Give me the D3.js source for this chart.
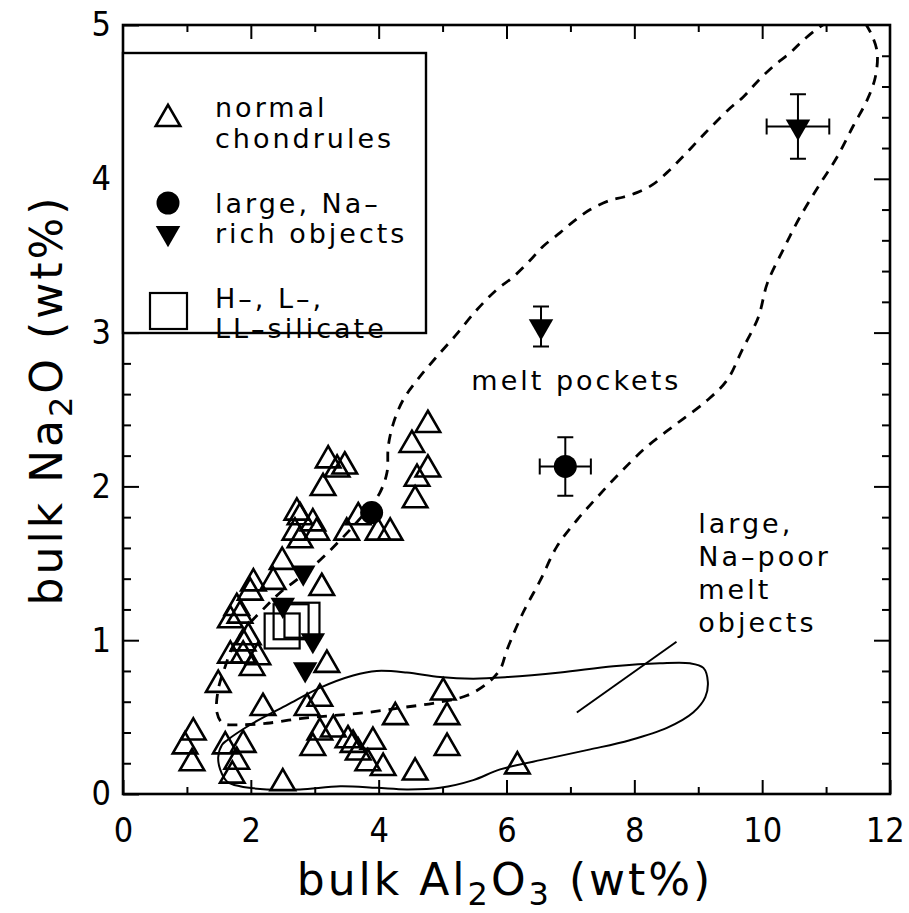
<!DOCTYPE html>
<html>
<head>
<meta charset="utf-8">
<script src="https://cdn.jsdelivr.net/npm/d3@7"></script>
<style>
  body { margin: 0; background: #fff; }
  text { font-family: "DejaVu Sans", sans-serif; fill: #000; }
  .tick text { font-family: "DejaVu Sans Condensed", "DejaVu Sans", sans-serif; font-stretch: condensed; font-size: 34px; }
  .lbl { font-size: 27px; letter-spacing: 3px; }
  .title { font-size: 44px; letter-spacing: 3px; }
</style>
</head>
<body>
<div id="chart"></div>
<script>
// normal chondrules (Al2O3, Na2O)
var chondX = [4.77, 4.52, 4.77, 4.60, 4.57, 3.21, 3.47, 3.35, 3.13, 2.72, 2.77, 2.97, 2.69, 3.03, 2.77,
              3.68, 3.50, 3.99, 4.18, 2.49, 2.35, 2.04, 1.99, 3.11, 1.78, 1.83, 1.68, 1.96, 1.88, 1.68,
              1.88, 2.11, 2.02, 3.19, 1.49, 2.19, 3.08, 2.88, 4.26, 5.01, 5.07, 5.07, 4.57, 3.08, 3.29,
              2.97, 3.52, 3.60, 3.68, 3.91, 3.83, 4.07, 2.50, 1.10, 0.97, 1.08, 1.60, 1.88, 1.78, 1.71, 6.17];
var chondY = [2.40, 2.27, 2.11, 2.05, 1.91, 2.17, 2.13, 2.11, 1.99, 1.83, 1.80, 1.76, 1.70, 1.70, 1.65,
              1.80, 1.70, 1.70, 1.70, 1.51, 1.38, 1.37, 1.31, 1.34, 1.21, 1.16, 1.13, 1.02, 0.98, 0.90,
              0.90, 0.89, 0.82, 0.84, 0.71, 0.56, 0.62, 0.56, 0.50, 0.66, 0.50, 0.30, 0.14, 0.40, 0.42,
              0.30, 0.35, 0.32, 0.27, 0.34, 0.20, 0.17, 0.07, 0.40, 0.31, 0.20, 0.31, 0.32, 0.21, 0.12, 0.18];

// large, Na-rich objects
var circX = [3.89, 6.92];
var circY = [1.83, 2.13];
var circXErr = [0, 0.40];
var circYErr = [0, 0.19];
var triX = [2.82, 2.50, 2.97, 2.85, 6.54, 10.56];
var triY = [1.44, 1.23, 1.00, 0.81, 3.04, 4.34];
var triXErr = [0, 0, 0, 0, 0, 0.49];
var triYErr = [0, 0, 0, 0, 0.13, 0.21];

// H-, L-, LL-silicate
var silX = [2.49, 2.63, 2.80];
var silY = [1.06, 1.12, 1.13];

// melt pockets outline (dashed)
var meltX = [11.03, 10.91, 10.64, 10.44, 10.17, 9.92, 9.70, 9.50, 9.23, 9.00, 8.75, 8.51, 8.28, 8.04, 7.82,
             7.62, 7.31, 7.07, 6.84, 6.57, 6.37, 6.10, 5.85, 5.54, 5.20, 4.88, 4.60, 4.38, 4.23, 4.15,
             4.13, 4.02, 3.87, 3.60, 3.35, 3.08, 2.77, 2.46, 2.19, 1.94, 1.72, 1.60, 1.49, 1.47, 1.56,
             1.83, 2.25, 2.77, 3.29, 3.82, 4.33, 4.85, 5.38, 5.70, 5.90, 6.01, 6.26, 6.53, 6.79, 7.10,
             7.42, 7.78, 8.20, 8.67, 9.14, 9.45, 9.69, 9.94, 10.08, 10.33, 10.59, 10.91, 11.17, 11.42, 11.64,
             11.77, 11.80, 11.72, 11.63];
var meltY = [5.02, 4.99, 4.90, 4.82, 4.73, 4.63, 4.53, 4.46, 4.35, 4.25, 4.14, 4.04, 3.96, 3.91, 3.88,
             3.86, 3.80, 3.73, 3.65, 3.56, 3.47, 3.36, 3.28, 3.15, 2.98, 2.83, 2.69, 2.56, 2.41, 2.26,
             2.09, 1.96, 1.87, 1.74, 1.63, 1.52, 1.41, 1.31, 1.20, 1.09, 0.96, 0.83, 0.68, 0.53, 0.46,
             0.45, 0.46, 0.49, 0.51, 0.53, 0.56, 0.59, 0.64, 0.72, 0.81, 0.94, 1.18, 1.39, 1.61, 1.78,
             1.93, 2.09, 2.26, 2.41, 2.56, 2.69, 2.89, 3.10, 3.32, 3.54, 3.75, 3.97, 4.14, 4.34, 4.51,
             4.66, 4.82, 4.93, 5.00];

// large, Na-poor melt objects outline (solid, closed)
var poorX = [1.63, 2.03, 2.57, 3.08, 3.60, 3.97, 4.44, 4.96, 5.48, 6.01, 6.84, 7.67, 8.40, 8.87, 9.08,
             9.15, 9.11, 8.92, 8.51, 7.93, 7.31, 6.64, 5.90, 5.48, 4.96, 4.44, 3.97, 3.40, 2.77, 2.25,
             1.83, 1.63, 1.52, 1.49, 1.55];
var poorY = [0.35, 0.46, 0.58, 0.69, 0.77, 0.80, 0.79, 0.76, 0.75, 0.76, 0.79, 0.83, 0.85, 0.85, 0.82,
             0.73, 0.63, 0.53, 0.43, 0.35, 0.29, 0.23, 0.16, 0.09, 0.04, 0.03, 0.04, 0.05, 0.03, 0.03,
             0.05, 0.08, 0.16, 0.24, 0.32];

// leader line for the Na-poor label
var leaderX = [7.10, 8.66];
var leaderY = [0.53, 0.99];

var W = 909, H = 913;
var margin = { left: 123, right: 19, top: 25, bottom: 119 };
var width = W - margin.left - margin.right,
    height = H - margin.top - margin.bottom;

var svg = d3.select("#chart").append("svg")
    .attr("width", W)
    .attr("height", H);

var g = svg.append("g")
    .attr("transform", "translate(" + margin.left + "," + margin.top + ")");

var x = d3.scaleLinear().domain([0, 12]).range([0, width]);
var y = d3.scaleLinear().domain([0, 5]).range([height, 0]);

g.append("clipPath").attr("id", "clip")
  .append("rect").attr("width", width).attr("height", height);

// axes: ticks point inward on all four sides
function styleAxis(sel) {
  sel.select(".domain").remove();
  sel.selectAll(".tick line").attr("stroke", "#000").attr("stroke-width", 2);
}

g.append("g").attr("transform", "translate(0," + height + ")")
  .call(d3.axisBottom(x).tickValues(d3.range(1, 12, 2)).tickSize(-7).tickFormat(""))
  .call(styleAxis);
g.append("g").attr("transform", "translate(0," + height + ")")
  .call(d3.axisBottom(x).tickValues(d3.range(0, 13, 2)).tickSize(-14).tickPadding(24).tickFormat(d3.format("d")))
  .call(styleAxis);
g.append("g")
  .call(d3.axisTop(x).tickValues(d3.range(1, 12, 2)).tickSize(-7).tickFormat(""))
  .call(styleAxis);
g.append("g")
  .call(d3.axisTop(x).tickValues(d3.range(2, 12, 2)).tickSize(-14).tickFormat(""))
  .call(styleAxis);

var yMinor = d3.range(0.2, 5, 0.2).filter(function(d) { return Math.abs(d - Math.round(d)) > 0.01; });
g.append("g")
  .call(d3.axisLeft(y).tickValues(yMinor).tickSize(-8).tickFormat(""))
  .call(styleAxis);
g.append("g")
  .call(d3.axisLeft(y).tickValues(d3.range(0, 6, 1)).tickSize(-16).tickPadding(12).tickFormat(d3.format("d")))
  .call(styleAxis);
g.append("g").attr("transform", "translate(" + width + ",0)")
  .call(d3.axisRight(y).tickValues(yMinor).tickSize(-8).tickFormat(""))
  .call(styleAxis);
g.append("g").attr("transform", "translate(" + width + ",0)")
  .call(d3.axisRight(y).tickValues(d3.range(1, 5, 1)).tickSize(-16).tickFormat(""))
  .call(styleAxis);

// the last x label sits at the page edge: keep it inside
g.selectAll(".tick text").filter(function(d) { return d === 12; })
  .attr("text-anchor", "end").attr("dx", "0.42em");

// outlines
var outline = d3.line()
    .x(function(d) { return x(d[0]); })
    .y(function(d) { return y(d[1]); })
    .curve(d3.curveCatmullRom);

g.append("path")
    .datum(d3.zip(meltX, meltY))
    .attr("clip-path", "url(#clip)")
    .attr("fill", "none")
    .attr("stroke", "#000")
    .attr("stroke-width", 2.8)
    .attr("stroke-dasharray", "10,8")
    .attr("d", outline);

g.append("path")
    .datum(d3.zip(poorX, poorY))
    .attr("fill", "none")
    .attr("stroke", "#000")
    .attr("stroke-width", 2)
    .attr("d", outline.curve(d3.curveCatmullRomClosed));

g.append("path")
    .datum(d3.zip(leaderX, leaderY))
    .attr("fill", "none")
    .attr("stroke", "#000")
    .attr("stroke-width", 2)
    .attr("d", d3.line().x(function(d) { return x(d[0]); }).y(function(d) { return y(d[1]); }));

// normal chondrules
var tri = d3.symbol().type(d3.symbolTriangle).size(260);
g.selectAll(".chond")
  .data(d3.zip(chondX, chondY))
  .enter().append("path")
    .attr("class", "chond")
    .attr("d", tri)
    .attr("transform", function(d) { return "translate(" + x(d[0]) + "," + y(d[1]) + ")"; })
    .attr("fill", "none")
    .attr("stroke", "#000")
    .attr("stroke-width", 2.6);

// silicate squares
var sq = 35;
g.selectAll(".sil")
  .data(d3.zip(silX, silY))
  .enter().append("rect")
    .attr("x", function(d) { return x(d[0]) - sq / 2; })
    .attr("y", function(d) { return y(d[1]) - sq / 2; })
    .attr("width", sq)
    .attr("height", sq)
    .attr("fill", "none")
    .attr("stroke", "#000")
    .attr("stroke-width", 2.2);

// error bars
function errorBars(xs, ys, xe, ye) {
  var cap = 8;
  d3.range(xs.length).forEach(function(i) {
    var cx = x(xs[i]), cy = y(ys[i]);
    if (xe[i] > 0) {
      var x0 = x(xs[i] - xe[i]), x1 = x(xs[i] + xe[i]);
      g.append("path").attr("stroke", "#000").attr("stroke-width", 2).attr("fill", "none")
        .attr("d", "M" + x0 + "," + cy + "H" + x1 +
                   "M" + x0 + "," + (cy - cap) + "V" + (cy + cap) +
                   "M" + x1 + "," + (cy - cap) + "V" + (cy + cap));
    }
    if (ye[i] > 0) {
      var y0 = y(ys[i] - ye[i]), y1 = y(ys[i] + ye[i]);
      g.append("path").attr("stroke", "#000").attr("stroke-width", 2).attr("fill", "none")
        .attr("d", "M" + cx + "," + y0 + "V" + y1 +
                   "M" + (cx - cap) + "," + y0 + "H" + (cx + cap) +
                   "M" + (cx - cap) + "," + y1 + "H" + (cx + cap));
    }
  });
}
errorBars(circX, circY, circXErr, circYErr);
errorBars(triX, triY, triXErr, triYErr);

// Na-rich objects
g.selectAll(".circ")
  .data(d3.zip(circX, circY))
  .enter().append("circle")
    .attr("cx", function(d) { return x(d[0]); })
    .attr("cy", function(d) { return y(d[1]); })
    .attr("r", 11.5)
    .attr("fill", "#000");

g.selectAll(".dtri")
  .data(d3.zip(triX, triY))
  .enter().append("path")
    .attr("d", tri)
    .attr("transform", function(d) { return "translate(" + x(d[0]) + "," + y(d[1]) + ") rotate(180)"; })
    .attr("fill", "#000");

// frame
g.append("rect")
    .attr("width", width)
    .attr("height", height)
    .attr("fill", "none")
    .attr("stroke", "#000")
    .attr("stroke-width", 2.6);

// legend
var leg = g.append("g").attr("transform", "translate(0,28)");
leg.append("rect")
    .attr("width", 303).attr("height", 280)
    .attr("fill", "#fff").attr("stroke", "#000").attr("stroke-width", 2.4);
leg.append("path").attr("d", tri).attr("transform", "translate(45,66)")
    .attr("fill", "none").attr("stroke", "#000").attr("stroke-width", 2.6);
leg.append("circle").attr("cx", 45).attr("cy", 150).attr("r", 11.5).attr("fill", "#000");
leg.append("path").attr("d", tri).attr("transform", "translate(45,180) rotate(180)").attr("fill", "#000");
leg.append("rect").attr("x", 27).attr("y", 240).attr("width", 37).attr("height", 36)
    .attr("fill", "none").attr("stroke", "#000").attr("stroke-width", 2.2);

var legLines = [["normal", 64], ["chondrules", 95], ["large, Na–", 160], ["rich objects", 190],
                ["H–, L–,", 255], ["LL–silicate", 285]];
leg.selectAll(".lt").data(legLines).enter().append("text")
    .attr("class", "lbl")
    .attr("x", 92)
    .attr("y", function(d) { return d[1]; })
    .text(function(d) { return d[0]; });

// annotations
g.append("text").attr("class", "lbl")
    .attr("x", x(5.45)).attr("y", y(2.63))
    .text("melt pockets");
var poorLines = ["large,", "Na–poor", "melt", "objects"];
g.selectAll(".pl").data(poorLines).enter().append("text")
    .attr("class", "lbl")
    .attr("x", x(9.0))
    .attr("y", function(d, i) { return y(1.7) + i * 33; })
    .text(function(d) { return d; });

// axis titles
var xt = svg.append("text").attr("class", "title")
    .attr("x", 505).attr("y", 895).attr("text-anchor", "middle");
xt.append("tspan").text("bulk Al");
xt.append("tspan").attr("baseline-shift", "-30%").attr("font-size", "32px").text("2");
xt.append("tspan").text("O");
xt.append("tspan").attr("baseline-shift", "-30%").attr("font-size", "32px").text("3");
xt.append("tspan").text(" (wt%)");

var yt = svg.append("text").attr("class", "title")
    .attr("transform", "translate(62,400) rotate(-90)")
    .attr("text-anchor", "middle");
yt.append("tspan").text("bulk Na");
yt.append("tspan").attr("baseline-shift", "-30%").attr("font-size", "32px").text("2");
yt.append("tspan").text("O (wt%)");
</script>
</body>
</html>
